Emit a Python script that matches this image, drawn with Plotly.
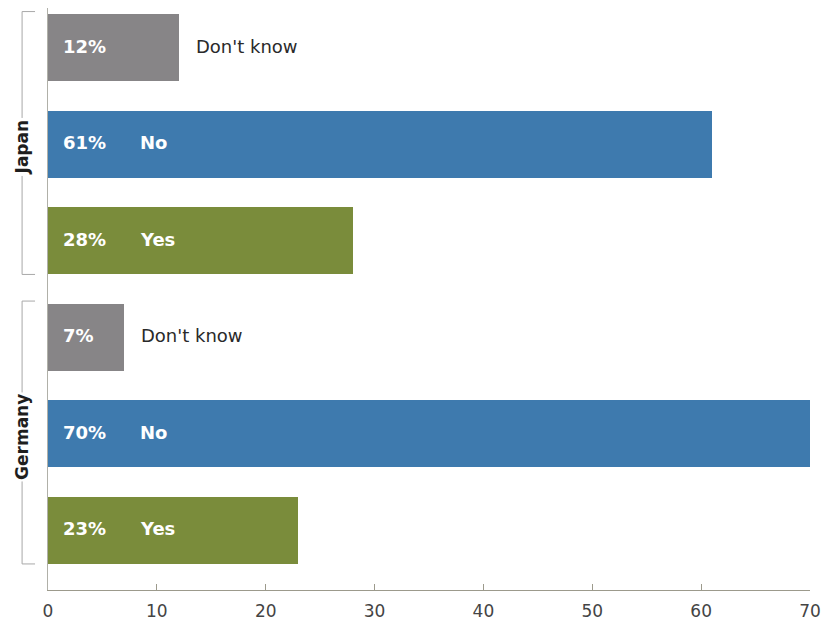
import plotly.graph_objects as go

# Survey responses by country (percent)
countries = ["Japan", "Germany"]
answers = ["Don't know", "No", "Yes"]
japan_values = [12, 61, 28]
germany_values = [7, 70, 23]

x_ticks = [0, 10, 20, 30, 40, 50, 60, 70]

answer_colors = {"Don't know": "#878587", "No": "#3e7aae", "Yes": "#7a8c3b"}
inside_label = {"Don't know": False, "No": True, "Yes": True}

FONT = "DejaVu Sans, Liberation Sans, Arial, sans-serif"
BAR_WIDTH = 0.694
Y_MIN, Y_MAX = -0.617, 5.414

values_by_country = {"Japan": japan_values, "Germany": germany_values}

# Slot positions: top group first, answers listed top to bottom
rows = []
n = len(countries) * len(answers)
for ci, country in enumerate(countries):
    for ai, answer in enumerate(answers):
        pos = n - 1 - (ci * len(answers) + ai)
        rows.append((country, answer, values_by_country[country][ai], pos))

fig = go.Figure()
for answer in answers:
    sel = [r for r in rows if r[1] == answer]
    fig.add_trace(go.Bar(
        x=[r[2] for r in sel],
        y=[r[3] for r in sel],
        orientation="h",
        width=BAR_WIDTH,
        marker=dict(color=answer_colors[answer], line=dict(width=0)),
        name=answer,
        showlegend=False,
        hoverinfo="x+name",
    ))

annotations = []
for country, answer, value, pos in rows:
    # percentage inside the bar
    annotations.append(dict(
        x=1.15, y=pos + 0.02, xref="x", yref="y", text=f"<b>{value}%</b>",
        showarrow=False, xanchor="left", yanchor="middle",
        font=dict(family=FONT, size=18, color="white"),
    ))
    if inside_label[answer]:
        annotations.append(dict(
            x=8.25, y=pos + 0.02, xref="x", yref="y", text=f"<b>{answer}</b>",
            showarrow=False, xanchor="left", yanchor="middle",
            font=dict(family=FONT, size=18, color="white"),
        ))
    else:
        annotations.append(dict(
            x=value + 1.4, y=pos + 0.02, xref="x", yref="y", text=answer,
            showarrow=False, xanchor="left", yanchor="middle",
            font=dict(family=FONT, size=18, color="#2a2a2a"),
        ))

# Group brackets with rotated country names
def to_paper(v):
    return (v - Y_MIN) / (Y_MAX - Y_MIN)

shapes = []
bx, tick_end = -0.034, -0.017
for ci, country in enumerate(countries):
    positions = [r[3] for r in rows if r[0] == country]
    top = max(positions) + BAR_WIDTH / 2 + 0.03
    bottom = min(positions) - BAR_WIDTH / 2
    yt, yb = to_paper(top), to_paper(bottom)
    line = dict(color="#a8a8a8", width=1)
    shapes.append(dict(type="line", xref="paper", yref="paper", x0=bx, x1=bx, y0=yb, y1=yt, line=line))
    shapes.append(dict(type="line", xref="paper", yref="paper", x0=bx, x1=tick_end, y0=yt, y1=yt, line=line))
    shapes.append(dict(type="line", xref="paper", yref="paper", x0=bx, x1=tick_end, y0=yb, y1=yb, line=line))
    annotations.append(dict(
        x=bx, y=sum(positions) / len(positions) - 0.03, xref="paper", yref="y",
        text=f"<b>{country}</b>", textangle=-90, showarrow=False,
        xanchor="center", yanchor="middle", bgcolor="white",
        font=dict(family=FONT, size=17, color="#1e1e1e"),
    ))

fig.update_layout(
    width=835, height=625,
    margin=dict(l=48, r=25, t=8, b=35, autoexpand=False),
    plot_bgcolor="white", paper_bgcolor="white",
    bargap=0,
    xaxis=dict(
        range=[0, 70], tickvals=x_ticks, ticks="inside", ticklen=6,
        tickcolor="#9c9a8c", showline=True, linecolor="#9c9a8c", linewidth=1,
        showgrid=False, zeroline=False, ticklabelstandoff=6, automargin=False,
        tickfont=dict(family=FONT, size=17, color="#444444"),
    ),
    yaxis=dict(
        range=[Y_MIN, Y_MAX], showticklabels=False, ticks="",
        showline=True, linecolor="#b0b0a8", linewidth=1,
        showgrid=False, zeroline=False, automargin=False,
    ),
    annotations=annotations,
    shapes=shapes,
)

fig.write_html("out.html")
